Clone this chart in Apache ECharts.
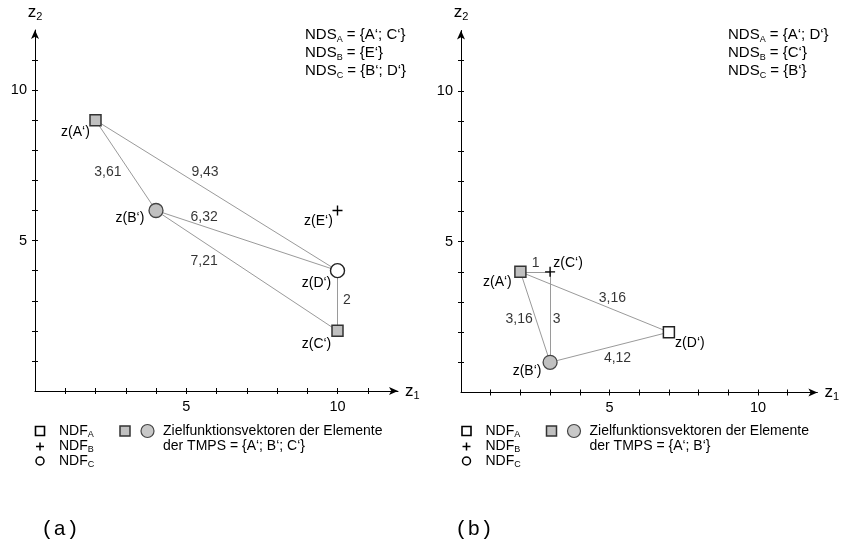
<!DOCTYPE html>
<html><head><meta charset="utf-8">
<script src="https://cdn.jsdelivr.net/npm/echarts@6/dist/echarts.min.js"></script>
<style>html,body{margin:0;padding:0;background:#fff}#c{width:842px;height:544px}</style>
</head><body><div id="c"></div><script>
// ---------- data ----------
const tickValues = [1,2,3,4,5,6,7,8,9,10,11];
const tickLabels = [5,10];
const axisMin = 0, axisMax = 12;

// chart (a)
const aNames = ['A‘','B‘','C‘','D‘','E‘'];
const aX = [2,4,10,10,10];
const aY = [9,6,2,4,6];
const aKinds = ['graySquare','grayCircle','graySquare','whiteCircle','plus'];
const aEdges = [['A‘','B‘'],['A‘','D‘'],['B‘','D‘'],['B‘','C‘'],['D‘','C‘']];
const aEdgeText = ['3,61','9,43','6,32','7,21','2'];
const aEdgeLabelX = [2.41,5.62,5.59,5.59,10.31];
const aEdgeLabelY = [7.28,7.28,5.78,4.32,3.03];
const aNds = ['A‘; C‘','E‘','B‘; D‘'];
const aTmps = 'A‘; B‘; C‘';

// chart (b)
const bNames = ['A‘','B‘','C‘','D‘'];
const bX = [2,3,3,7];
const bY = [4,1,4,2];
const bKinds = ['graySquare','grayCircle','plus','whiteSquare'];
const bEdges = [['A‘','C‘'],['A‘','D‘'],['A‘','B‘'],['C‘','B‘'],['B‘','D‘']];
const bEdgeText = ['1','3,16','3,16','3','4,12'];
const bEdgeLabelX = [2.51,5.10,1.96,3.22,5.27];
const bEdgeLabelY = [4.29,3.14,2.44,2.44,1.14];
const bNds = ['A‘; D‘','C‘','B‘'];
const bTmps = 'A‘; B‘';

const ndsLetters = ['A','B','C'];
const legendTitle = 'Zielfunktionsvektoren der Elemente';
const panelTags = ['(a)','(b)'];

// ---------- styles ----------
const F = '"Liberation Sans", Arial, sans-serif';
const aLabelOffset = {'A‘':[-20,12],'B‘':[-26,8],'C‘':[-21,13],'D‘':[-21,12],'E‘':[-19,11]};
const bLabelOffset = {'A‘':[-23,10],'B‘':[-23,9],'C‘':[18,-9],'D‘':[21,11]};
const kindStyle = {
  graySquare:{symbol:'rect',size:11,color:'#c0c0c0',border:'#333',bw:1.5},
  grayCircle:{symbol:'circle',size:14,color:'#c0c0c0',border:'#444',bw:1.3},
  whiteCircle:{symbol:'circle',size:14,color:'#fff',border:'#222',bw:1.4},
  whiteSquare:{symbol:'rect',size:11,color:'#fff',border:'#222',bw:1.5},
  plus:{symbol:'path://M4.3,0H5.7V4.3H10V5.7H5.7V10H4.3V5.7H0V4.3H4.3Z',size:10,color:'#000',border:'#000',bw:0}
};
const grids = [
  {left:35, top:30, width:363, height:361},
  {left:461, top:30.5, width:362, height:362}
];
const subRich = {s:{fontSize:9, fontFamily:F, verticalAlign:'bottom', lineHeight:5, color:'#000'}};

function axes(gi, dim){
  const isX = dim==='x';
  const main = {
    gridIndex:gi, type:'value', min:axisMin, max:axisMax, interval:1,
    position: isX?'bottom':'left',
    splitLine:{show:false},
    axisLine:{show:true, onZero:false, symbol:['none','arrow'], symbolSize:[6,9], lineStyle:{color:'#000',width:1}},
    axisTick:{show:true, customValues:tickValues, length:3, inside:false, lineStyle:{color:'#000',width:1}},
    axisLabel:{show:true, customValues:tickLabels, margin: isX?8:8, color:'#000', fontSize:14.5, fontFamily:F},
    name: isX?'z{s|1}':'z{s|2}', nameLocation:'end', nameGap: isX?7:8,
    nameTextStyle:{color:'#000', fontSize:17, fontFamily:F, lineHeight:20, rich:{s:{fontSize:11,fontFamily:F,verticalAlign:'bottom',lineHeight:8,color:'#000'}},
      align: isX?'left':'center', verticalAlign: isX?'middle':'bottom'}
  };
  const dup = {
    gridIndex:gi, type:'value', min:axisMin, max:axisMax, interval:1,
    position: isX?'bottom':'left',
    splitLine:{show:false},
    axisLine:{show:false, onZero:false},
    axisTick:{show:true, customValues:tickValues, length:3, inside:true, lineStyle:{color:'#000',width:1}},
    axisLabel:{show:false}
  };
  return [main, dup];
}

function buildSeries(gi, names, xs, ys, kinds, edges, eText, eX, eY, offsets){
  const ax = gi*2;
  const pos = {};
  names.forEach((n,i)=>{pos[n]=[xs[i],ys[i]];});
  const out = [];
  out.push({
    type:'lines', coordinateSystem:'cartesian2d', xAxisIndex:ax, yAxisIndex:ax, z:1,
    silent:true, lineStyle:{color:'#9a9a9a', width:1, opacity:1},
    data: edges.map(e=>({coords:[pos[e[0]], pos[e[1]]]}))
  });
  out.push({
    type:'scatter', xAxisIndex:ax, yAxisIndex:ax, z:2, symbolSize:0, silent:true,
    label:{show:true, position:'inside', formatter:p=>p.name, color:'#000', fontSize:14, fontFamily:F},
    data: eText.map((t,i)=>({name:t, value:[eX[i],eY[i]]}))
  });
  Object.keys(kindStyle).forEach(k=>{
    const idx = kinds.map((kk,i)=>kk===k?i:-1).filter(i=>i>=0);
    if(!idx.length) return;
    const s = kindStyle[k];
    out.push({
      type:'scatter', xAxisIndex:ax, yAxisIndex:ax, z:3, silent:true,
      symbol:s.symbol, symbolSize:s.size,
      itemStyle:{color:s.color, borderColor:s.border, borderWidth:s.bw, opacity:1},
      label:{show:true, position:'inside', formatter:p=>'z('+p.name+')', color:'#000', fontSize:14, fontFamily:F},
      data: idx.map(i=>({name:names[i], value:[xs[i],ys[i]], label:{offset:offsets[names[i]]}}))
    });
  });
  return out;
}

function ndsBlock(x, list){
  return {type:'text', left:x, top:26, silent:true, style:{
    text: list.map((v,i)=>'NDS{s|'+ndsLetters[i]+'} = {'+v+'}').join('\n'),
    fontSize:15, fontFamily:F, fill:'#000', lineHeight:18, rich:subRich
  }};
}

function legendBlock(dx, tmps){
  const els = [];
  els.push({type:'rect', shape:{x:35.5+dx,y:426.5,width:9,height:9}, style:{fill:'#fff',stroke:'#000',lineWidth:1.6}});
  els.push({type:'line', shape:{x1:36+dx,y1:446.5,x2:44+dx,y2:446.5}, style:{stroke:'#000',lineWidth:1.5}});
  els.push({type:'line', shape:{x1:40+dx,y1:442.5,x2:40+dx,y2:450.5}, style:{stroke:'#000',lineWidth:1.5}});
  els.push({type:'circle', shape:{cx:40+dx,cy:461,r:4}, style:{fill:'#fff',stroke:'#000',lineWidth:1.5}});
  ndsLetters.forEach((l,i)=>{
    els.push({type:'text', x:59+dx, y:431+15*i, style:{text:'NDF{s|'+l+'}', fontSize:14, fontFamily:F, fill:'#000', verticalAlign:'middle', lineHeight:16, rich:subRich}});
  });
  els.push({type:'rect', shape:{x:120+dx,y:426,width:10,height:10}, style:{fill:'#c0c0c0',stroke:'#333',lineWidth:1.5}});
  els.push({type:'circle', shape:{cx:147.5+dx,cy:431,r:6.5}, style:{fill:'#c8c8c8',stroke:'#444',lineWidth:1.2}});
  els.push({type:'text', x:163+dx, y:431, style:{text:legendTitle, fontSize:14, fontFamily:F, fill:'#000', verticalAlign:'middle'}});
  els.push({type:'text', x:163+dx, y:446, style:{text:'der TMPS = {'+tmps+'}', fontSize:14, fontFamily:F, fill:'#000', verticalAlign:'middle'}});
  return els;
}

const xAxes = [...axes(0,'x'), ...axes(1,'x')];
const yAxes = [...axes(0,'y'), ...axes(1,'y')];
const series = [
  ...buildSeries(0, aNames, aX, aY, aKinds, aEdges, aEdgeText, aEdgeLabelX, aEdgeLabelY, aLabelOffset),
  ...buildSeries(1, bNames, bX, bY, bKinds, bEdges, bEdgeText, bEdgeLabelX, bEdgeLabelY, bLabelOffset)
];
const graphic = [
  ndsBlock(305, aNds), ndsBlock(728, bNds),
  ...legendBlock(0, aTmps), ...legendBlock(426.5, bTmps),
  {type:'text', x:41, y:529, style:{text:panelTags[0], fontSize:21, fontFamily:'"Liberation Mono", "Courier New", monospace', fill:'#000', verticalAlign:'middle'}},
  {type:'text', x:455, y:529, style:{text:panelTags[1], fontSize:21, fontFamily:'"Liberation Mono", "Courier New", monospace', fill:'#000', verticalAlign:'middle'}}
];

const chart = echarts.init(document.getElementById('c'), null, {renderer:'canvas'});
chart.setOption({
  animation:false, backgroundColor:'#fff',
  grid: grids, xAxis: xAxes, yAxis: yAxes, series: series, graphic: graphic
});
</script></body></html>
